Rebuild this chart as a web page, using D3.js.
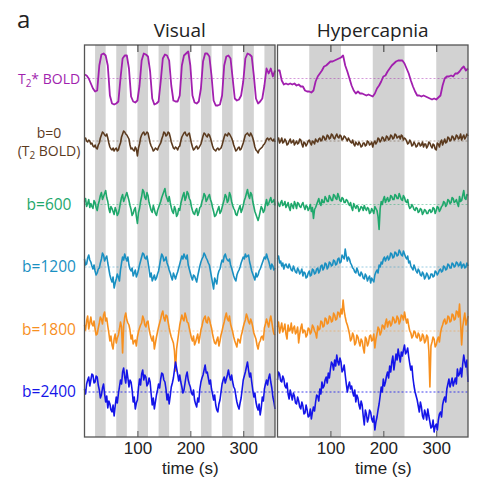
<!DOCTYPE html>
<html><head><meta charset="utf-8">
<script src="https://cdn.jsdelivr.net/npm/d3@7/dist/d3.min.js"></script>
<style>body{margin:0;background:#fff}</style>
</head><body><svg id="c" width="481" height="490"></svg>
<script>
// each series is sampled evenly over 0–360 s (T2* every 4 s, the others every 2 s)
const panels = ["Visual", "Hypercapnia"];
const xTicks = [100, 200, 300];
const visualBlocks = [[20,40],[60,80],[100,120],[140,160],[180,200],[220,240],[260,280],[300,320],[340,360]];
const hyperBlocks = [[60,120],[180,240],[300,360]];
const seriesNames = ["T2* BOLD", "b=0", "b=600", "b=1200", "b=1800", "b=2400"];
const seriesColors = ["#a11fae", "#5b3a1e", "#1fa86c", "#1a90c2", "#f7901f", "#1515e8"];

// signal change (arbitrary units) – Visual
const visT2s = [4,3,0,-5,-10,-13,-12,13,24,25,23,13,-17,-25,-26,-25,-23,0,20,23,23,10,-18,-23,-24,-22,-7,18,25,24,22,7,-20,-26,-25,-23,-3,20,24,23,18,-7,-22,-23,-23,-17,13,23,25,27,13,-17,-24,-25,-23,-10,17,25,25,22,3,-22,-27,-27,-26,-17,13,22,23,20,0,-20,-22,-21,-17,-3,20,25,24,22,3,-20,-25,-23,-20,-7,10,5,10,2,8];
const visB0 = [2,3,0,-1,1,0,-3,-2,-5,-6,-4,-7,-8,-4,-2,3,6,9,8,6,5,7,3,-2,-6,-8,-9,-7,-10,-8,-7,-10,-9,-5,-2,4,7,10,9,7,6,4,2,-4,-8,-7,-9,-10,-6,-8,-15,-7,-3,3,6,8,9,6,7,9,8,3,-2,-5,-7,-10,-9,-7,-8,-9,-6,-4,-2,2,5,9,8,5,6,9,8,4,-1,-4,-7,-8,-6,-7,-9,-6,-5,0,4,6,8,9,6,5,7,8,3,-2,-6,-9,-8,-6,-5,-8,-7,-5,-3,1,5,8,7,5,4,7,6,3,-1,-5,-8,-9,-10,-8,-7,-9,-8,-7,-4,0,4,7,6,5,8,7,5,3,0,-4,-7,-10,-9,-7,-6,-9,-8,-5,-2,2,6,7,8,6,5,8,6,3,-1,-6,-9,-10,-12,-9,-8,-7,-6,-4,-3,-1,2,3,1,2,3,1,0,2,-1];
const visB600 = [3,6,-2,1,5,-3,1,-2,-4,4,2,-3,-6,0,4,9,12,5,8,11,14,7,3,-4,-8,-2,-4,-7,-10,-3,-6,-11,-9,-4,2,7,10,3,6,9,12,8,4,-1,-5,-11,-9,-5,-3,-12,-19,-8,-4,3,8,15,13,7,5,12,9,2,-2,-6,-8,-1,-5,-9,-11,-6,-3,0,3,7,10,13,16,9,6,3,8,2,-3,-7,-9,-2,-5,-12,-10,-4,-6,1,5,9,12,4,7,13,11,6,4,-2,-6,-9,-10,-6,-4,-11,-8,-3,-2,3,6,11,9,3,5,8,10,5,2,-3,-7,-12,-11,-8,-5,-2,-9,-7,-3,1,5,10,8,2,4,12,9,3,-1,-4,-6,-10,-11,-7,-4,-1,-8,-5,-1,4,7,11,15,9,6,12,10,3,-2,-7,-10,-13,-16,-12,-7,-2,-4,-8,-6,0,5,-1,1,4,7,2,3,5,-1];
const visB1200 = [8,2,3,9,12,7,5,1,-2,2,-4,-8,-6,-2,-1,4,8,14,12,6,9,11,4,-2,-8,-12,-15,-10,-21,-16,-12,-7,-10,-14,-3,4,10,7,13,9,6,10,2,-2,-4,-1,-9,-6,-3,-10,-7,-3,2,6,10,14,13,9,8,11,5,-2,-10,-6,-14,-11,-8,-13,-11,-7,-4,2,8,13,11,6,7,10,4,1,-3,-6,-10,-13,-6,-9,-12,-8,-5,-1,3,7,11,8,13,10,8,12,2,-2,-6,-10,-13,-8,-9,-12,-15,-9,-4,1,5,8,10,14,12,9,7,4,2,-4,-10,-16,-22,-11,-14,-17,-8,-4,-2,3,7,5,11,13,9,7,6,8,2,-1,-5,-9,-12,-14,-8,-5,-3,0,4,7,10,8,13,10,11,12,5,1,-4,-7,-10,-13,-6,-10,-8,-4,-2,1,4,7,10,8,13,9,6,2,-2,3,1,-3,-1];
const visB1800 = [6,1,10,15,2,8,14,7,5,10,2,-4,-3,3,8,14,12,7,16,19,10,13,5,-2,-10,-5,-14,-18,-8,-3,-12,-7,-4,2,9,4,-22,5,14,18,11,8,6,1,-8,-4,-13,-10,-9,-15,-6,-1,3,6,8,15,12,6,4,9,10,2,-3,-7,-10,-5,-18,-12,-6,-1,4,8,12,17,20,13,10,16,15,9,3,-2,-6,-9,-12,-20,-40,-18,-10,-2,6,11,16,12,10,18,14,9,8,3,-2,-7,-10,-5,-14,-11,-7,-3,-12,-6,1,5,10,13,15,9,8,14,12,7,3,-3,-8,-12,-13,-9,-6,-15,-10,-4,0,5,9,14,18,12,10,15,7,3,-1,-6,-10,-13,-16,-8,-9,-12,-5,-1,4,8,11,17,14,9,7,12,9,4,-2,-5,-8,-14,-18,-12,-10,-6,-5,-9,3,7,12,8,4,10,15,9,2,-3,-4];
const visB2400 = [3,-2,8,12,15,6,12,18,17,9,10,16,15,7,2,-6,-3,4,8,-2,-10,-4,-16,-9,-12,-18,-20,-13,-24,-14,-5,-11,-2,5,12,8,20,24,15,9,22,14,5,12,10,2,-10,-5,-17,-11,-8,4,13,7,18,22,12,17,15,6,8,14,10,-2,-13,-6,-17,-10,-3,2,8,4,13,19,18,12,10,3,-8,-2,-12,-4,5,9,14,22,30,24,18,11,17,10,5,-1,2,9,16,20,12,8,5,-1,-3,2,-8,-12,-15,-6,-10,3,10,14,17,22,27,19,20,14,8,12,3,-2,-8,-3,-13,-18,-20,-12,-8,0,8,12,15,9,13,17,22,16,12,17,10,5,3,-4,-10,-14,-17,-11,-6,3,12,16,20,25,30,22,15,19,10,2,-5,-1,-10,-15,-18,-12,-23,-16,-5,-9,3,8,12,7,14,18,10,4,-5,-10,-17];

// signal change (arbitrary units) – Hypercapnia
const hypT2s = [8,8,-2,-6,-5,-6,-5,-6,-5,-7,-6,-8,-8,-12,-13,-13,-14,-12,-3,2,5,8,12,13,15,17,17,18,19,20,21,23,13,7,0,-7,-12,-15,-13,-15,-15,-16,-17,-16,-17,-18,-15,-10,-7,-3,2,3,7,10,13,15,17,18,18,18,15,10,5,-2,-8,-13,-17,-17,-18,-17,-18,-19,-20,-21,-20,-21,-19,-17,-7,0,2,2,3,2,5,5,7,10,12,8,10];
const hypB0 = [1,3,-2,0,3,-2,-1,2,0,-4,-3,0,2,-2,-1,1,-4,-2,0,-3,-2,2,1,-3,-6,-1,-2,-5,-3,0,1,-2,-4,0,-1,-3,2,0,-1,2,3,0,1,5,4,1,2,6,5,2,3,7,6,3,2,5,7,4,3,6,5,1,2,5,4,2,0,3,1,-1,-2,1,-3,-5,-1,-3,-4,-1,-3,-6,-5,-2,-2,-5,-4,0,-1,-4,-3,-1,-6,-2,0,-3,-1,3,2,-1,1,4,3,0,1,5,4,1,2,6,5,2,3,7,6,3,4,5,2,6,5,1,3,2,0,-3,-2,1,-1,-5,-4,-1,-3,-6,-5,-2,-2,-5,-4,-1,-6,-3,-3,-7,-5,-1,-2,-5,-7,-3,-4,-8,-9,-2,-3,-6,-1,1,-4,-1,2,-2,-1,4,3,0,1,5,4,1,2,6,5,2,3,7,1,4,6,2,4,7,5];
const hypB600 = [3,0,-2,2,4,-1,0,3,-3,-1,2,-3,-6,1,-1,-4,3,0,-4,2,1,-2,-3,0,2,-2,-5,-1,-2,-6,-4,0,-7,-3,-14,-5,-3,0,3,6,1,-1,5,2,2,8,6,3,3,9,7,4,4,10,9,6,5,11,8,4,3,7,6,2,2,5,4,1,-1,2,-3,-6,1,-2,-4,-1,-2,-7,-5,-2,-3,-6,-1,-4,-6,-3,-4,-9,-8,-4,-6,-9,-2,-4,-6,-12,-25,-4,3,0,5,8,2,5,7,3,4,9,8,5,5,10,9,6,6,11,8,5,4,9,7,3,2,5,-1,-4,-3,0,-2,-5,-6,-3,-4,-8,-7,-4,-5,-10,-8,-5,-6,-9,-9,-6,-5,-8,-7,-3,-4,-9,-6,-2,-3,-7,-5,-2,-1,3,2,-2,0,5,4,1,2,7,6,2,3,5,1,-2,8,3,4,9,14,6,5,10,9];
const hypB1200 = [8,11,4,6,1,4,-2,2,3,0,-1,3,0,-3,-4,1,-2,-5,-6,-1,-3,-7,-5,-2,-9,-5,-6,-11,-10,-6,-4,-9,-8,-2,-3,-7,-6,-2,-1,-6,-4,1,2,-3,-1,4,3,-2,0,5,4,1,2,7,6,2,3,8,9,4,5,12,10,8,18,11,6,10,8,4,2,-1,-2,-5,-6,-1,-4,-8,-9,-5,-7,-11,-12,-7,-9,-14,-11,-9,-16,-11,-13,-15,-8,-5,-3,-6,2,0,5,3,8,10,6,9,11,7,9,14,13,9,10,15,14,11,12,17,15,12,11,16,13,10,8,11,4,6,1,-1,-3,2,-1,-4,-6,-2,-4,-8,-9,-5,-7,-12,-10,-6,-8,-12,-11,-7,-7,-10,-9,-4,-5,-8,-6,-3,-2,-5,-4,1,0,-3,-2,3,2,-1,-1,4,3,0,1,5,4,1,2,5,-1,2,3,-1,0,4,1];
const hypB1800 = [4,9,-2,3,8,-1,2,7,-3,-8,6,0,1,8,-2,3,5,-3,-1,4,-12,-3,3,7,-2,1,0,-6,-4,3,2,-3,-1,6,4,0,-2,-7,5,1,2,10,9,4,5,13,12,7,8,15,14,9,10,18,16,11,12,19,18,14,22,17,31,20,14,9,6,2,-3,-10,-8,-2,-5,-14,-12,-4,-6,-11,-15,-8,-10,-17,-22,-6,-8,-15,-12,-5,-4,-10,-9,-3,-17,-8,-3,4,2,-4,-1,6,5,2,8,12,4,9,10,5,7,14,12,8,9,15,13,7,10,16,15,11,19,13,8,12,5,0,-2,-7,-5,0,-1,-6,-7,-2,-4,-10,-9,-3,-5,-12,-10,-4,-6,-20,-56,-15,-11,-6,-8,-16,-14,-9,-6,-11,-2,3,6,10,12,7,8,15,14,9,10,17,16,11,12,20,19,14,27,8,-14,4,12,18,6,10,15];
const hypB2400 = [12,20,18,11,10,16,13,6,4,9,-2,-7,2,-3,-8,-1,-4,-11,-12,-5,-9,-15,-17,-10,-14,-22,-21,-13,-18,-25,-24,-17,-27,-20,-15,-19,-10,-3,-4,-9,3,-2,10,4,6,12,15,9,19,14,23,30,28,22,32,26,37,30,27,34,30,20,22,27,17,8,0,6,10,3,6,0,-4,2,-10,-3,-6,-13,-17,-9,-13,-24,-33,-18,-22,-30,-26,-18,-20,-27,-30,-24,-38,-30,-25,-18,-12,-4,5,0,13,6,10,16,20,14,26,20,30,36,22,30,38,32,43,36,30,40,36,42,47,38,40,44,35,28,22,26,14,6,0,-4,-8,-14,-20,-10,-15,-24,-27,-18,-22,-28,-17,-24,-30,-36,-35,-28,-40,-34,-32,-38,-28,-22,-20,-25,-13,-8,-5,-10,3,8,13,5,9,14,6,10,14,8,23,16,18,24,15,28,37,30,25,32,10];

const visualData = [visT2s, visB0, visB600, visB1200, visB1800, visB2400];
const hyperData = [hypT2s, hypB0, hypB600, hypB1200, hypB1800, hypB2400];

const svg = d3.select("#c");
const yTop = 45, yBottom = 437;
const panelX = [[84.5, 275], [277.5, 468]];
const baselines = [78.5, 141, 204.5, 267, 331, 392];

svg.append("text").attr("x", 17).attr("y", 28).attr("font-family", "Open Sans").attr("font-size", 24).attr("fill", "#222").text("a");

panels.forEach((name, pi) => {
  const x = d3.scaleLinear().domain([0, 360]).range(panelX[pi]);
  const g = svg.append("g");
  const blocks = pi === 0 ? visualBlocks : hyperBlocks;
  g.selectAll("rect.band").data(blocks).join("rect")
    .attr("x", d => x(d[0])).attr("width", d => x(d[1]) - x(d[0]))
    .attr("y", yTop).attr("height", yBottom - yTop).attr("fill", "#d2d2d2");
  const data = pi === 0 ? visualData : hyperData;
  data.forEach((vals, si) => {
    const y = d3.scaleLinear().domain([-60, 60]).range([baselines[si] + 60, baselines[si] - 60]);
    const tOf = d3.scaleLinear().domain([0, vals.length - 1]).range([0, 360]);
    g.append("line").attr("x1", x(0)).attr("x2", x(360)).attr("y1", y(0)).attr("y2", y(0))
      .attr("stroke", seriesColors[si]).attr("stroke-opacity", si === 5 ? 0.8 : 0.45)
      .attr("stroke-width", 1).attr("stroke-dasharray", "2,2");
    const line = d3.line().x((d, i) => x(tOf(i))).y(d => y(d));
    g.append("path").attr("d", line(vals)).attr("fill", "none")
      .attr("stroke", seriesColors[si]).attr("stroke-width", si === 0 ? 1.8 : 1.6).attr("stroke-linejoin", "round");
  });
  // frame
  g.append("rect").attr("x", panelX[pi][0]).attr("y", yTop)
    .attr("width", panelX[pi][1] - panelX[pi][0]).attr("height", yBottom - yTop)
    .attr("fill", "none").attr("stroke", "#555").attr("stroke-width", 1.3);
  // axes
  const axB = d3.axisBottom(x).tickValues(xTicks).tickSizeInner(-6).tickSizeOuter(0).tickPadding(5);
  const ab = g.append("g").attr("transform", `translate(0,${yBottom})`).call(axB);
  ab.select(".domain").remove();
  ab.selectAll("line").attr("stroke", "#555");
  ab.selectAll("text").attr("font-family", "Liberation Sans").attr("font-size", 17).attr("fill", "#222");
  const axT = d3.axisTop(x).tickValues(xTicks).tickSizeInner(-7).tickSizeOuter(0).tickFormat("");
  const at = g.append("g").attr("transform", `translate(0,${yTop})`).call(axT);
  at.select(".domain").remove();
  at.selectAll("line").attr("stroke", "#333");
  g.append("text").attr("x", x(200)).attr("y", 474).attr("text-anchor", "middle")
    .attr("font-family", "Liberation Sans").attr("font-size", 17).attr("fill", "#222").text("time (s)");
  g.append("text").attr("x", (panelX[pi][0] + panelX[pi][1]) / 2).attr("y", 37)
    .attr("text-anchor", "middle").attr("font-family", "Open Sans").attr("font-size", 19).attr("fill", "#222").text(name);
});

// series labels
const lab = svg.append("g").attr("font-family", "Open Sans").attr("text-anchor", "middle");
const labelBase = [84, 138, 210, 272, 335, 397];
seriesNames.forEach((n, i) => {
  const t = lab.append("text").attr("x", 49).attr("y", labelBase[i]).attr("fill", seriesColors[i])
    .attr("font-size", i < 2 ? 14 : 15.5);
  if (i === 0) {
    t.append("tspan").text("T");
    t.append("tspan").attr("font-size", 10).attr("dy", 3).text("2");
    t.append("tspan").attr("dy", -3).text("* BOLD");
  } else {
    t.text(n);
  }
  if (i === 1) {
    const t2 = lab.append("text").attr("x", 49).attr("y", 156).attr("fill", seriesColors[i]).attr("font-size", 14);
    t2.append("tspan").text("(T");
    t2.append("tspan").attr("font-size", 10).attr("dy", 3).text("2");
    t2.append("tspan").attr("dy", -3).text(" BOLD)");
  }
});
</script></body></html>
